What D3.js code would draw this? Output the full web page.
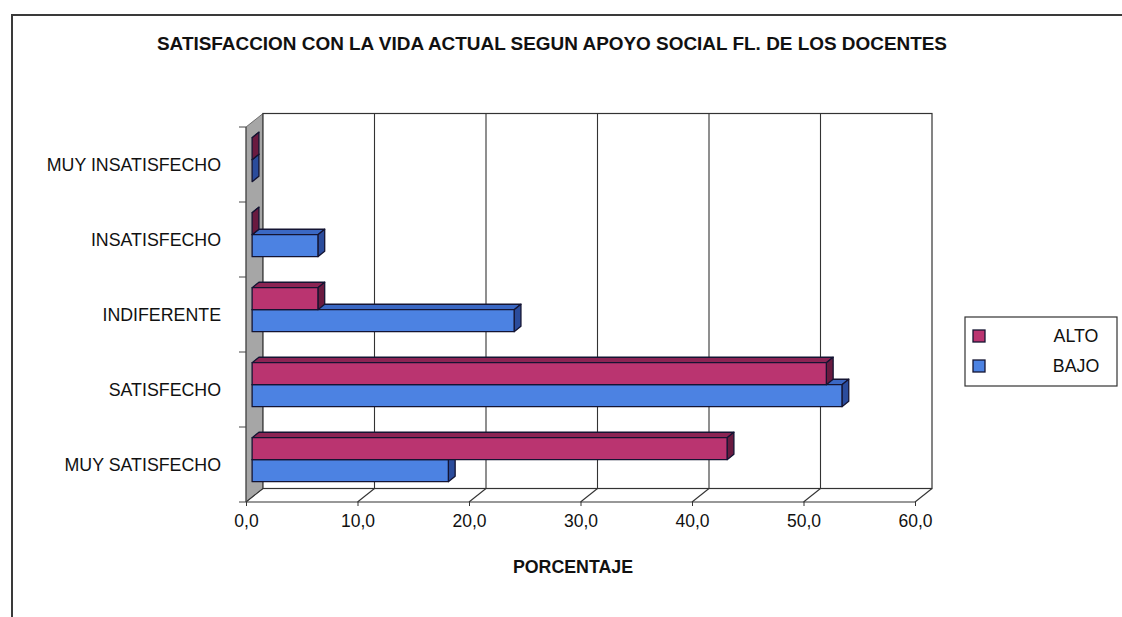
<!DOCTYPE html>
<html>
<head>
<meta charset="utf-8">
<script src="https://cdn.jsdelivr.net/npm/d3@7"></script>
<style>
  html, body { margin: 0; padding: 0; background: #fff; }
  svg { display: block; font-family: "Liberation Sans", Arial, sans-serif; }
</style>
</head>
<body>
<svg id="chart" width="1122" height="617"></svg>
<script>
// Categories from top to bottom of the category axis
const categories = ["MUY INSATISFECHO", "INSATISFECHO", "INDIFERENTE", "SATISFECHO", "MUY SATISFECHO"];
const seriesNames = ["ALTO", "BAJO"];
// Percentages per category for each level of social support
const alto = [0.0, 0.0, 5.9, 51.5, 42.6];
const bajo = [0.0, 5.9, 23.5, 52.9, 17.6];
const tickValues = [0, 10, 20, 30, 40, 50, 60];
const titleText = "SATISFACCION CON LA VIDA ACTUAL SEGUN APOYO SOCIAL FL. DE LOS DOCENTES";
const axisTitle = "PORCENTAJE";

const svg = d3.select("#chart");

// Outer chart frame
svg.append("path")
  .attr("d", "M12,640 L12,15 L1130,15")
  .attr("fill", "none").attr("stroke", "#3a3a3a").attr("stroke-width", 2);

// Oblique 3D projection: depth 0 = front plane, 1 = back wall
const DX = 17, DY = -13.5;
const off = f => [DX * f, DY * f];

const x = d3.scaleLinear().domain([0, 60]).range([246, 915]);
const y = d3.scaleBand().domain(categories).range([127, 502]);
const inner = d3.scaleBand().domain(seriesNames).range([15.5, 59.5]);

const colors = {
  ALTO: { front: "#BA3470", top: "#8C2454", side: "#6A1A40" },
  BAJO: { front: "#4C82E2", top: "#3A68C4", side: "#2B4C9C" }
};

const g = svg.append("g");
const ax0 = x(0), ax1 = x(60), yTop = y.range()[0], yBot = y.range()[1];
const [bx, by] = off(1);

// Left (category) wall
g.append("path")
  .attr("d", `M${ax0},${yTop} L${ax0 + bx},${yTop + by} L${ax0 + bx},${yBot + by} L${ax0},${yBot} Z`)
  .attr("fill", "#a6a6a6").attr("stroke", "#555").attr("stroke-width", 0.8);

// Back wall
g.append("rect")
  .attr("x", ax0 + bx).attr("y", yTop + by)
  .attr("width", ax1 - ax0).attr("height", yBot - yTop)
  .attr("fill", "#fff").attr("stroke", "#333").attr("stroke-width", 1.2);

// Gridlines on back wall and their floor diagonals
tickValues.forEach(v => {
  if (v > 0 && v < 60) {
    g.append("line")
      .attr("x1", x(v) + bx).attr("x2", x(v) + bx)
      .attr("y1", yTop + by).attr("y2", yBot + by)
      .attr("stroke", "#333").attr("stroke-width", 1.1);
  }
  g.append("line")
    .attr("x1", x(v)).attr("y1", yBot)
    .attr("x2", x(v) + bx).attr("y2", yBot + by)
    .attr("stroke", "#333").attr("stroke-width", 1.1);
});

// Floor front edge
g.append("line").attr("x1", ax0).attr("x2", ax1).attr("y1", yBot).attr("y2", yBot)
  .attr("stroke", "#333").attr("stroke-width", 1.2);

// Value axis: ticks and labels on the front edge
const xAxis = d3.axisBottom(x).tickValues(tickValues).tickSize(4)
  .tickFormat(d => d3.format(".1f")(d).replace(".", ","));
const xa = svg.append("g").attr("transform", `translate(0,${yBot})`).call(xAxis);
xa.select(".domain").remove();
xa.selectAll(".tick line").attr("stroke", "#333");
xa.selectAll(".tick text").attr("font-size", 17.5).attr("fill", "#111")
  .attr("font-family", "Liberation Sans, Arial, sans-serif").attr("dy", "1.0em");

// Category axis: front left edge with ticks at band boundaries
g.append("line").attr("x1", ax0).attr("x2", ax0).attr("y1", yTop).attr("y2", yBot)
  .attr("stroke", "#444").attr("stroke-width", 1);
d3.range(categories.length + 1).forEach(i => {
  const yy = yTop + i * y.step();
  g.append("line").attr("x1", ax0 - 7).attr("x2", ax0).attr("y1", yy).attr("y2", yy)
    .attr("stroke", "#444").attr("stroke-width", 1);
});
svg.append("g").selectAll("text").data(categories).join("text")
  .attr("x", 221).attr("y", d => y(d) + y.bandwidth() / 2)
  .attr("text-anchor", "end").attr("dominant-baseline", "central")
  .attr("font-size", 17.8).attr("fill", "#111").text(d => d);

// 3D bars: front face at depth fa, back at fb
const fa = 0.36, fb = 0.76;
const [fx, fy] = off(fa);
const [kx, ky] = off(fb);
const bars = [];
categories.forEach((c, i) => {
  bars.push({ cat: c, s: "BAJO", v: bajo[i] });
  bars.push({ cat: c, s: "ALTO", v: alto[i] });
});
// lower bar of each pair first so the upper one overlaps its top face
const barG = svg.append("g");
bars.forEach(b => {
  const x0 = x(0) + fx, x1 = x(b.v) + fx;
  const y0 = y(b.cat) + inner(b.s) + fy, y1 = y0 + inner.bandwidth();
  const ddx = kx - fx, ddy = ky - fy;
  const col = colors[b.s];
  const bg = barG.append("g").attr("stroke", "#141432").attr("stroke-width", 1.3)
    .attr("stroke-linejoin", "round");
  // top face
  bg.append("path")
    .attr("d", `M${x0},${y0} L${x1},${y0} L${x1 + ddx},${y0 + ddy} L${x0 + ddx},${y0 + ddy} Z`)
    .attr("fill", col.top);
  // end face
  bg.append("path")
    .attr("d", `M${x1},${y0} L${x1 + ddx},${y0 + ddy} L${x1 + ddx},${y1 + ddy} L${x1},${y1} Z`)
    .attr("fill", col.side);
  // front face
  bg.append("rect")
    .attr("x", x0).attr("y", y0).attr("width", x1 - x0).attr("height", y1 - y0)
    .attr("fill", col.front);
});

// Titles
svg.append("text").attr("x", 552).attr("y", 50).attr("text-anchor", "middle")
  .attr("font-size", 18).attr("font-weight", "bold").attr("fill", "#111")
  .attr("textLength", 790).attr("lengthAdjust", "spacingAndGlyphs")
  .text(titleText);
svg.append("text").attr("x", 573).attr("y", 573).attr("text-anchor", "middle")
  .attr("font-size", 17.8).attr("font-weight", "bold").attr("fill", "#111")
  .text(axisTitle);

// Legend
const lg = svg.append("g");
lg.append("rect").attr("x", 965).attr("y", 317).attr("width", 152).attr("height", 69)
  .attr("fill", "#fff").attr("stroke", "#333").attr("stroke-width", 1.2);
seriesNames.forEach((s, i) => {
  const cy = 336 + i * 30;
  lg.append("rect").attr("x", 973).attr("y", cy - 6).attr("width", 12).attr("height", 12)
    .attr("fill", colors[s].front).attr("stroke", "#141432").attr("stroke-width", 1.3);
  lg.append("text").attr("x", 1076).attr("y", cy).attr("text-anchor", "middle")
    .attr("dominant-baseline", "central").attr("font-size", 17.8).attr("fill", "#111").text(s);
});
</script>
</body>
</html>
